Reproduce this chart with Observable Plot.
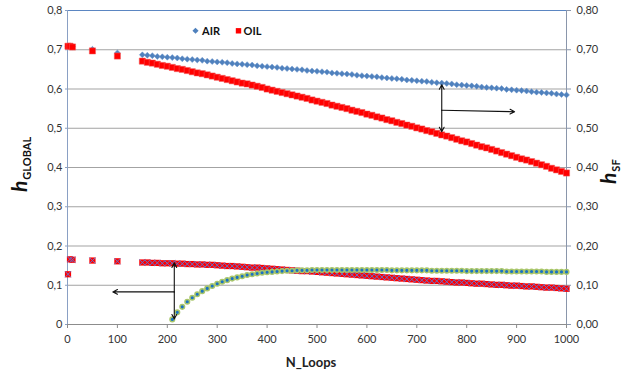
<!DOCTYPE html>
<html><head><meta charset="utf-8">
<script src="https://cdn.jsdelivr.net/npm/d3@7"></script>
<script src="https://cdn.jsdelivr.net/npm/@observablehq/plot@0.6"></script>
<style>
body{margin:0;background:#fff;}
#wrap{position:relative;width:633px;height:371px;}
</style></head>
<body><div id="wrap"></div>
<script>
// N_Loops sampling
const nEarly = [1, 5, 10, 50, 100];
const nMain = [150,160,170,180,190,200,210,220,230,240,250,260,270,280,290,300,310,320,330,340,350,360,370,380,390,400,410,420,430,440,450,460,470,480,490,500,510,520,530,540,550,560,570,580,590,600,610,620,630,640,650,660,670,680,690,700,710,720,730,740,750,760,770,780,790,800,810,820,830,840,850,860,870,880,890,900,910,920,930,940,950,960,970,980,990,1000];
const nAirSF = [210,220,230,240,250,260,270,280,290,300,310,320,330,340,350,360,370,380,390,400,410,420,430,440,450,460,470,480,490,500,510,520,530,540,550,560,570,580,590,600,610,620,630,640,650,660,670,680,690,700,710,720,730,740,750,760,770,780,790,800,810,820,830,840,850,860,870,880,890,900,910,920,930,940,950,960,970,980,990,1000];

// h_GLOBAL, AIR (blue diamonds)
const airGlobal = [0.709,0.709,0.708,0.701,0.692,
0.687,0.686,0.685,0.683,0.682,0.681,0.680,0.679,0.677,0.676,0.675,0.674,0.673,0.671,0.670,0.669,0.668,0.667,0.665,0.664,0.663,0.662,0.661,0.659,0.658,0.657,0.656,0.655,0.653,0.652,0.651,0.650,0.649,0.647,0.646,0.645,0.644,0.643,0.641,0.640,0.639,0.638,0.637,0.635,0.634,0.633,0.632,0.631,0.629,0.628,0.627,0.626,0.625,0.623,0.622,0.621,0.620,0.619,0.617,0.616,0.615,0.614,0.613,0.611,0.610,0.609,0.608,0.607,0.605,0.604,0.603,0.602,0.601,0.599,0.598,0.597,0.596,0.595,0.593,0.592,0.591,0.590,0.589,0.587,0.586,0.585];
// h_GLOBAL, OIL (red squares)
const oilGlobal = [0.709,0.709,0.707,0.697,0.684,
0.671,0.668,0.666,0.663,0.660,0.658,0.655,0.652,0.650,0.647,0.644,0.641,0.639,0.636,0.633,0.630,0.627,0.624,0.621,0.618,0.615,0.613,0.610,0.607,0.604,0.600,0.597,0.594,0.591,0.588,0.585,0.582,0.579,0.576,0.572,0.569,0.566,0.563,0.559,0.556,0.553,0.550,0.546,0.543,0.540,0.536,0.533,0.529,0.526,0.522,0.519,0.515,0.512,0.508,0.505,0.501,0.498,0.494,0.491,0.487,0.483,0.480,0.476,0.472,0.468,0.465,0.461,0.457,0.453,0.450,0.446,0.442,0.438,0.434,0.430,0.426,0.422,0.419,0.415,0.411,0.407,0.403,0.398,0.394,0.390,0.386];
// h_SF, OIL (red squares with cross)
const oilSF = [0.128,0.166,0.165,0.163,0.161,
0.158,0.158,0.157,0.157,0.156,0.156,0.156,0.155,0.155,0.154,0.154,0.153,0.153,0.152,0.152,0.151,0.150,0.149,0.149,0.148,0.147,0.146,0.145,0.145,0.144,0.143,0.142,0.141,0.140,0.139,0.138,0.137,0.136,0.136,0.135,0.134,0.133,0.132,0.131,0.130,0.129,0.128,0.127,0.126,0.125,0.124,0.123,0.122,0.121,0.120,0.119,0.118,0.117,0.116,0.115,0.114,0.113,0.112,0.111,0.111,0.110,0.109,0.108,0.107,0.107,0.106,0.105,0.104,0.104,0.103,0.102,0.101,0.101,0.100,0.099,0.099,0.098,0.097,0.097,0.096,0.095,0.094,0.094,0.093,0.092,0.091];
// h_SF, AIR (green/blue dots)
const airSF = [0.013,0.031,0.045,0.058,0.068,0.077,0.085,0.092,0.098,0.104,0.109,0.113,0.117,0.120,0.123,0.126,0.128,0.130,0.132,0.133,0.134,0.135,0.136,0.137,0.137,0.138,0.138,0.138,0.139,0.139,0.139,0.139,0.139,0.139,0.139,0.139,0.139,0.139,0.139,0.139,0.139,0.139,0.139,0.139,0.138,0.138,0.138,0.138,0.138,0.138,0.138,0.138,0.137,0.137,0.137,0.137,0.137,0.137,0.137,0.136,0.136,0.136,0.136,0.136,0.136,0.136,0.136,0.135,0.135,0.135,0.135,0.135,0.135,0.135,0.135,0.134,0.134,0.134,0.134,0.134];

const yTicks = [0,0.1,0.2,0.3,0.4,0.5,0.6,0.7,0.8];
const xTicks = [0,100,200,300,400,500,600,700,800,900,1000];
const legendLabels = ["AIR","OIL"];

// annotation arrows (data units)
const arrows = [
  {x1:750,y1:0.546,x2:750,y2:0.611},
  {x1:750,y1:0.546,x2:750,y2:0.491},
  {x1:750,y1:0.546,x2:896,y2:0.542},
  {x1:214,y1:0.083,x2:214,y2:0.157},
  {x1:214,y1:0.083,x2:214,y2:0.014},
  {x1:214,y1:0.083,x2:91,y2:0.083}
];

const nAll = nEarly.concat(nMain);
const rowsAirG = nAll.map((n,i)=>({n, v:airGlobal[i]}));
const rowsOilG = nAll.map((n,i)=>({n, v:oilGlobal[i]}));
const rowsOilSF = nAll.map((n,i)=>({n, v:oilSF[i]}));
const rowsAirSF = nAirSF.map((n,i)=>({n, v:airSF[i]}));

const fmtL = d => d === 0 ? "0" : d3.format(".1f")(d).replace(".", ",");
const fmtR = d => d3.format(".2f")(d).replace(".", ",");
const fmtX = d => String(d);

const chart = Plot.plot({
  width:633, height:371,
  marginLeft:67, marginRight:67, marginTop:10, marginBottom:47,
  style:{fontFamily:"Lato, sans-serif", fontSize:"11px", color:"#333", background:"#fff"},
  x:{domain:[0,1000]},
  y:{domain:[0,0.8]},
  marks:[
    Plot.ruleY(yTicks.filter(d=>d>0 && d<0.8), {stroke:"#a3a3a3", strokeWidth:1}),
    Plot.ruleY([0.8], {stroke:"#5b86c2", strokeWidth:1}),
    Plot.axisY({ticks:yTicks, tickFormat:fmtL, tickSize:2, tickPadding:3, label:null, stroke:"#8aa0c4", fill:"#333"}),
    Plot.axisY({anchor:"right", ticks:yTicks, tickFormat:fmtR, tickSize:4, tickPadding:6, label:null, stroke:"#8a96ab", fill:"#333"}),
    Plot.axisX({ticks:xTicks, tickFormat:fmtX, tickSize:4, tickPadding:7, label:null, stroke:"#8c8c8c", fill:"#333"}),
    Plot.ruleX([0], {stroke:"#8aa0c4"}),
    Plot.ruleX([1000], {stroke:"#8a96ab"}),
    Plot.ruleY([0], {stroke:"#8c8c8c"}),
    // upper series
    Plot.dot(rowsAirG, {x:"n", y:"v", symbol:"diamond2", r:2.7, fill:"#4f81bd", stroke:"#6f97cc", strokeWidth:0.5}),
    Plot.dot(rowsOilG, {x:"n", y:"v", symbol:"square", r:3.5, fill:"#ff0000", stroke:"#f06060", strokeWidth:0.5}),
    // lower series
    Plot.dot(rowsOilSF, {x:"n", y:"v", symbol:"square", r:3.5, fill:"#ff0000"}),
    Plot.dot(rowsOilSF, {x:"n", y:"v", symbol:"times", r:2.8, stroke:"#6670cc", strokeWidth:1.0}),
    Plot.dot(rowsAirSF, {x:"n", y:"v", r:2.3, fill:"#1a72c4", stroke:"#a9c66a", strokeWidth:1.5}),
    // annotations
    Plot.arrow(arrows, {x1:"x1", y1:"y1", x2:"x2", y2:"y2", stroke:"#111", strokeWidth:1.1, headLength:7, headAngle:55, bend:0})
  ]
});

const svg = d3.select(chart);
// legend
const lg = svg.append("g").attr("font-family","Lato, sans-serif").attr("font-weight","bold").attr("font-size","11px").attr("fill","#111").attr("text-anchor","start");
lg.append("path").attr("d", d3.symbol(d3.symbolDiamond2, 24)()).attr("transform","translate(195.5,30.8)").attr("fill","#4f81bd");
lg.append("text").attr("x",202).attr("y",34.6).text(legendLabels[0]);
lg.append("rect").attr("x",235.8).attr("y",28.1).attr("width",5.4).attr("height",5.4).attr("fill","#ff0000");
lg.append("text").attr("x",243.5).attr("y",34.6).text(legendLabels[1]);

// x axis title
svg.append("text").attr("x",311).attr("y",367).attr("text-anchor","middle")
  .attr("font-family","Lato, sans-serif").attr("font-weight","bold").attr("font-size","13px").attr("fill","#222").text("N_Loops");

// left y title
const lt = svg.append("text").attr("transform","translate(27,192) rotate(-90)").attr("text-anchor","start")
  .attr("font-family","Lato, sans-serif").attr("font-weight","bold").attr("fill","#111");
lt.append("tspan").attr("font-size","21px").attr("font-style","italic").text("h");
lt.append("tspan").attr("font-size","11px").attr("dy","4").attr("dx","1").text("GLOBAL");

// right y title
const rt = svg.append("text").attr("transform","translate(616,184) rotate(-90)").attr("text-anchor","start")
  .attr("font-family","Lato, sans-serif").attr("font-weight","bold").attr("fill","#111");
rt.append("tspan").attr("font-size","21px").attr("font-style","italic").text("h");
rt.append("tspan").attr("font-size","11px").attr("dy","4").attr("dx","1").text("SF");

document.getElementById("wrap").appendChild(chart);
</script>
</body></html>
